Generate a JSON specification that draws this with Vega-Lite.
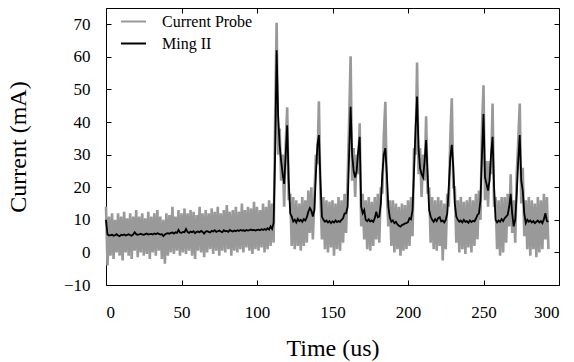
{
"$schema":"https://vega.github.io/schema/vega-lite/v6.json",
"autosize":"none",
"width":453,"height":277,
"padding":{"left":106,"top":8,"right":15,"bottom":77},
"background":"white",
"config":{"font":"Liberation Serif","view":{"stroke":"black","strokeWidth":1},
"axis":{"grid":false,"domain":false,"tickColor":"black","labelFont":"serif","titleFont":"Liberation Serif","labelFontSize":17,"titleFontSize":24,"titleFontWeight":"normal","labelColor":"black","titleColor":"black"},
"legend":{"labelFont":"serif","labelFontSize":16,"labelColor":"black"}},
"data":{"values":[
{"t":0,"p":14,"m":10},{"t":1,"p":-4,"m":5.5},{"t":2,"p":11,"m":5.2},{"t":3,"p":-1,"m":5.3},{"t":4,"p":12,"m":5.4},{"t":5,"p":-2,"m":5.1},{"t":6,"p":10,"m":5.3},{"t":7,"p":0,"m":5.6},{"t":8,"p":12,"m":5.2},{"t":9,"p":-1,"m":5.0},
{"t":10,"p":11,"m":5.4},{"t":11,"p":-2.5,"m":5.3},{"t":12,"p":12.5,"m":5.5},{"t":13,"p":0,"m":5.2},{"t":14,"p":10.5,"m":5.4},{"t":15,"p":-1,"m":5.6},{"t":16,"p":12,"m":5.3},{"t":17,"p":-2,"m":5.1},{"t":18,"p":11,"m":5.5},{"t":19,"p":0.5,"m":6.2},
{"t":20,"p":13,"m":5.6},{"t":21,"p":-1.5,"m":5.4},{"t":22,"p":11,"m":5.5},{"t":23,"p":0,"m":5.7},{"t":24,"p":12,"m":5.5},{"t":25,"p":-1,"m":5.4},{"t":26,"p":10.5,"m":5.6},{"t":27,"p":-0.5,"m":5.8},{"t":28,"p":12.5,"m":5.5},{"t":29,"p":-2,"m":5.6},
{"t":30,"p":11,"m":5.7},{"t":31,"p":0,"m":5.5},{"t":32,"p":12,"m":5.8},{"t":33,"p":-1,"m":5.6},{"t":34,"p":13,"m":5.9},{"t":35,"p":0.5,"m":5.7},{"t":36,"p":11,"m":5.5},{"t":37,"p":-2,"m":5.6},{"t":38,"p":10,"m":5.0},{"t":39,"p":-3.5,"m":5.5},
{"t":40,"p":12,"m":5.8},{"t":41,"p":-1,"m":5.9},{"t":42,"p":11.5,"m":5.7},{"t":43,"p":0,"m":6.0},{"t":44,"p":14,"m":6.1},{"t":45,"p":-0.5,"m":5.8},{"t":46,"p":11,"m":6.2},{"t":47,"p":0.5,"m":6.0},{"t":48,"p":13,"m":6.9},{"t":49,"p":-1,"m":6.1},
{"t":50,"p":12,"m":6.0},{"t":51,"p":0,"m":6.3},{"t":52,"p":13.5,"m":6.2},{"t":53,"p":-0.5,"m":7.2},{"t":54,"p":12,"m":6.3},{"t":55,"p":0.5,"m":6.0},{"t":56,"p":13,"m":6.4},{"t":57,"p":-1,"m":6.2},{"t":58,"p":12.5,"m":6.5},{"t":59,"p":-2,"m":5.9},
{"t":60,"p":11.5,"m":6.3},{"t":61,"p":0.5,"m":6.4},{"t":62,"p":14,"m":6.2},{"t":63,"p":0,"m":6.6},{"t":64,"p":12,"m":6.3},{"t":65,"p":-1.5,"m":5.8},{"t":66,"p":13,"m":6.4},{"t":67,"p":0,"m":6.5},{"t":68,"p":12,"m":6.3},{"t":69,"p":1,"m":6.1},
{"t":70,"p":13.5,"m":6.6},{"t":71,"p":-0.5,"m":6.4},{"t":72,"p":12.5,"m":6.8},{"t":73,"p":0.5,"m":6.3},{"t":74,"p":14,"m":6.5},{"t":75,"p":-1,"m":6.7},{"t":76,"p":12,"m":6.4},{"t":77,"p":0.5,"m":6.2},{"t":78,"p":13,"m":6.8},{"t":79,"p":0,"m":6.5},
{"t":80,"p":14.5,"m":6.6},{"t":81,"p":1,"m":6.3},{"t":82,"p":12.5,"m":6.9},{"t":83,"p":-1,"m":6.6},{"t":84,"p":13,"m":6.4},{"t":85,"p":0.5,"m":6.7},{"t":86,"p":14,"m":6.5},{"t":87,"p":0,"m":6.8},{"t":88,"p":12.5,"m":6.6},{"t":89,"p":1,"m":6.9},
{"t":90,"p":15,"m":6.7},{"t":91,"p":0,"m":6.8},{"t":92,"p":13,"m":6.6},{"t":93,"p":1.5,"m":6.9},{"t":94,"p":14,"m":6.7},{"t":95,"p":0.5,"m":6.8},{"t":96,"p":13.5,"m":7.0},{"t":97,"p":-0.5,"m":6.8},{"t":98,"p":15.5,"m":6.9},{"t":99,"p":1,"m":6.7},
{"t":100,"p":14,"m":6.9},{"t":101,"p":0.5,"m":7.0},{"t":102,"p":13,"m":6.8},{"t":103,"p":1.5,"m":7.1},{"t":104,"p":15,"m":6.9},{"t":105,"p":0,"m":7.2},{"t":106,"p":14,"m":6.9},{"t":107,"p":1,"m":7.4},{"t":108,"p":16,"m":7.0},{"t":109,"p":2,"m":8.0},
{"t":110,"p":15,"m":7.2},{"t":111,"p":3,"m":9},{"t":112,"p":40,"m":30},{"t":113,"p":70.5,"m":62},{"t":114,"p":30,"m":42},{"t":115,"p":38,"m":33},{"t":116,"p":22,"m":28},{"t":117,"p":30,"m":24},{"t":118,"p":14,"m":21},{"t":119,"p":33,"m":30},
{"t":120,"p":44.5,"m":39},{"t":121,"p":16,"m":22},{"t":122,"p":18,"m":12},{"t":123,"p":2,"m":11},{"t":124,"p":17,"m":9.5},{"t":125,"p":1,"m":10},{"t":126,"p":16,"m":9.2},{"t":127,"p":2,"m":10.3},{"t":128,"p":15,"m":9.6},{"t":129,"p":0.5,"m":10},
{"t":130,"p":17,"m":9.4},{"t":131,"p":2,"m":10.2},{"t":132,"p":16,"m":9.8},{"t":133,"p":3,"m":10.8},{"t":134,"p":19,"m":12.5},{"t":135,"p":6,"m":13.6},{"t":136,"p":20,"m":12.8},{"t":137,"p":4,"m":11},{"t":138,"p":17,"m":13},{"t":139,"p":30,"m":24},
{"t":140,"p":27,"m":33},{"t":141,"p":46.4,"m":36},{"t":142,"p":18,"m":22},{"t":143,"p":4,"m":11},{"t":144,"p":17,"m":10},{"t":145,"p":1,"m":9.4},{"t":146,"p":16,"m":9.8},{"t":147,"p":0,"m":9.2},{"t":148,"p":15.5,"m":9.6},{"t":149,"p":1.5,"m":9.0},
{"t":150,"p":16,"m":9.5},{"t":151,"p":-1,"m":9.2},{"t":152,"p":15,"m":9.8},{"t":153,"p":1,"m":9.3},{"t":154,"p":17,"m":9.6},{"t":155,"p":0.5,"m":9.4},{"t":156,"p":16,"m":10},{"t":157,"p":3,"m":10.5},{"t":158,"p":18,"m":12},{"t":159,"p":6,"m":12},
{"t":160,"p":22,"m":14},{"t":161,"p":40,"m":30},{"t":162,"p":60.2,"m":44.7},{"t":163,"p":22,"m":30},{"t":164,"p":32,"m":25},{"t":165,"p":17,"m":23},{"t":166,"p":30,"m":25},{"t":167,"p":24,"m":31},{"t":168,"p":39.6,"m":35.5},{"t":169,"p":8,"m":14},
{"t":170,"p":18,"m":12},{"t":171,"p":4,"m":13},{"t":172,"p":16,"m":10},{"t":173,"p":1,"m":9.6},{"t":174,"p":17,"m":10.2},{"t":175,"p":0.5,"m":9.5},{"t":176,"p":15.5,"m":9.8},{"t":177,"p":2,"m":9.4},{"t":178,"p":17,"m":10.5},{"t":179,"p":4,"m":12.5},
{"t":180,"p":18,"m":10.8},{"t":181,"p":3,"m":11},{"t":182,"p":20,"m":15},{"t":183,"p":18,"m":24},{"t":184,"p":36,"m":30},{"t":185,"p":46.2,"m":32},{"t":186,"p":18,"m":24},{"t":187,"p":8,"m":14},{"t":188,"p":16,"m":10.6},{"t":189,"p":2,"m":9.4},
{"t":190,"p":16,"m":9.8},{"t":191,"p":0,"m":9.0},{"t":192,"p":15,"m":9.4},{"t":193,"p":1,"m":8.6},{"t":194,"p":14,"m":8.2},{"t":195,"p":-1,"m":7.9},{"t":196,"p":15,"m":8.4},{"t":197,"p":0.5,"m":8.6},{"t":198,"p":14.5,"m":8.9},{"t":199,"p":1,"m":9.0},
{"t":200,"p":16,"m":9.3},{"t":201,"p":2,"m":10.5},{"t":202,"p":17,"m":10.2},{"t":203,"p":5,"m":13},{"t":204,"p":32,"m":25},{"t":205,"p":30,"m":38},{"t":206,"p":58.3,"m":47.8},{"t":207,"p":24,"m":32},{"t":208,"p":32,"m":25.8},{"t":209,"p":17,"m":24},
{"t":210,"p":30,"m":23},{"t":211,"p":22,"m":28},{"t":212,"p":41.8,"m":34.5},{"t":213,"p":18,"m":24},{"t":214,"p":20,"m":13},{"t":215,"p":3,"m":11},{"t":216,"p":17,"m":10},{"t":217,"p":1,"m":9.4},{"t":218,"p":16,"m":10.2},{"t":219,"p":0.5,"m":9.6},
{"t":220,"p":17,"m":10.6},{"t":221,"p":2,"m":10.8},{"t":222,"p":16,"m":9.5},{"t":223,"p":-2.5,"m":9.8},{"t":224,"p":15,"m":9.2},{"t":225,"p":1,"m":10},{"t":226,"p":18,"m":12},{"t":227,"p":14,"m":20},{"t":228,"p":35,"m":29},{"t":229,"p":47.3,"m":33},
{"t":230,"p":20,"m":26},{"t":231,"p":20,"m":15},{"t":232,"p":3,"m":11},{"t":233,"p":16,"m":10},{"t":234,"p":0,"m":9.4},{"t":235,"p":17,"m":9.8},{"t":236,"p":1,"m":9.2},{"t":237,"p":15.5,"m":10},{"t":238,"p":-0.5,"m":9.4},{"t":239,"p":16,"m":9.6},
{"t":240,"p":1.5,"m":9.1},{"t":241,"p":17,"m":9.8},{"t":242,"p":0,"m":9.3},{"t":243,"p":16,"m":9.7},{"t":244,"p":2,"m":9.5},{"t":245,"p":18,"m":10.4},{"t":246,"p":4,"m":11.5},{"t":247,"p":19,"m":12},{"t":248,"p":10,"m":16},{"t":249,"p":38,"m":30},
{"t":250,"p":51.3,"m":42.5},{"t":251,"p":16,"m":23},{"t":252,"p":28,"m":21},{"t":253,"p":14,"m":19},{"t":254,"p":28,"m":22},{"t":255,"p":24,"m":30},{"t":256,"p":45.7,"m":35.5},{"t":257,"p":14,"m":20},{"t":258,"p":17,"m":10},{"t":259,"p":1,"m":9.2},
{"t":260,"p":16,"m":9.8},{"t":261,"p":-1,"m":9.4},{"t":262,"p":17,"m":10.2},{"t":263,"p":0,"m":9.6},{"t":264,"p":17,"m":10.5},{"t":265,"p":3,"m":11},{"t":266,"p":18,"m":11.5},{"t":267,"p":8,"m":14},{"t":268,"p":24,"m":18},{"t":269,"p":6,"m":12},
{"t":270,"p":16,"m":8},{"t":271,"p":3,"m":10},{"t":272,"p":24,"m":18},{"t":273,"p":34,"m":28},{"t":274,"p":45.7,"m":36},{"t":275,"p":15,"m":22},{"t":276,"p":26,"m":19},{"t":277,"p":5,"m":12},{"t":278,"p":16,"m":9},{"t":279,"p":1,"m":10},
{"t":280,"p":17,"m":9.4},{"t":281,"p":-1,"m":9.8},{"t":282,"p":16,"m":9.2},{"t":283,"p":1,"m":9.6},{"t":284,"p":15,"m":9.0},{"t":285,"p":-1.5,"m":9.4},{"t":286,"p":17,"m":9.8},{"t":287,"p":0,"m":9.2},{"t":288,"p":16,"m":9.6},{"t":289,"p":1,"m":9.0},
{"t":290,"p":18,"m":10.2},{"t":291,"p":4,"m":12},{"t":292,"p":17,"m":9.6},{"t":293,"p":1,"m":9.4}
]},
"layer":[
{"mark":{"type":"line","strokeWidth":2.6,"interpolate":"linear"},
"encoding":{
"x":{"field":"t","type":"quantitative","scale":{"domain":[0,300],"nice":false},
"axis":{"orient":"bottom","title":"Time (us)","values":[0,50,100,150,200,250,300],"tickSize":-5,"labelPadding":24,"titlePadding":16}},
"y":{"field":"p","type":"quantitative","scale":{"domain":[-10,75],"nice":false,"zero":false},
"axis":{"orient":"left","title":"Current (mA)","values":[-10,0,10,20,30,40,50,60,70],"tickSize":-5,"labelPadding":21,"titlePadding":33}},
"color":{"datum":"Current Probe","type":"nominal","scale":{"domain":["Current Probe","Ming II"],"range":["#999999","#000000"]},
"legend":{"title":null,"orient":"none","legendX":14,"legendY":0,"symbolType":"stroke","symbolSize":625,"symbolStrokeWidth":2,"labelOffset":15,"rowPadding":0,"padding":0}}}},
{"mark":{"type":"line","strokeWidth":1.8,"interpolate":"linear"},
"encoding":{
"x":{"field":"t","type":"quantitative","axis":{"orient":"top","title":null,"labels":false,"values":[0,50,100,150,200,250,300],"tickSize":-5}},
"y":{"field":"m","type":"quantitative","axis":{"orient":"right","title":null,"labels":false,"values":[-10,0,10,20,30,40,50,60,70],"tickSize":-5}},
"color":{"datum":"Ming II","type":"nominal"}}}
],
"resolve":{"axis":{"x":"independent","y":"independent"}}
}
